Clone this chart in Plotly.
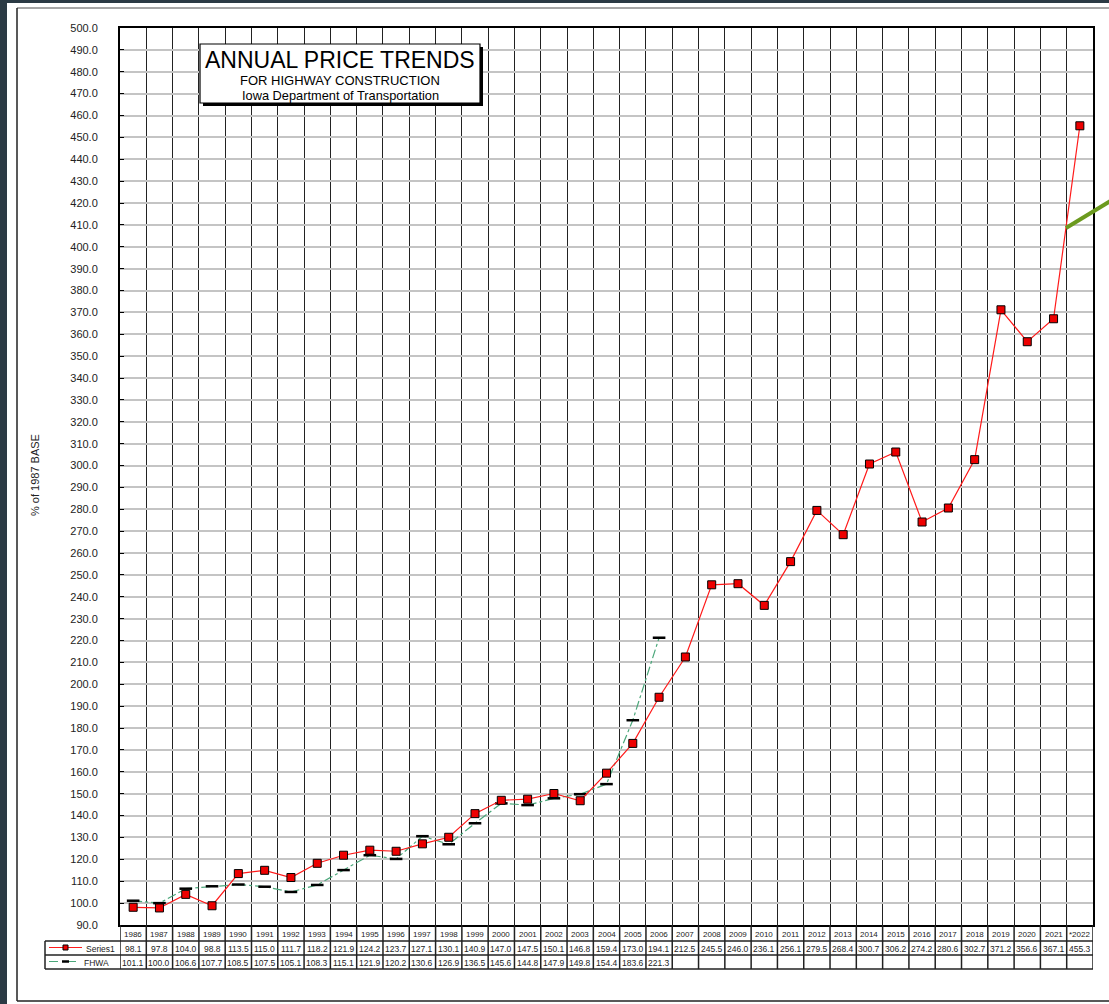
import plotly.graph_objects as go

years = ["1986", "1987", "1988", "1989", "1990", "1991", "1992", "1993", "1994", "1995",
         "1996", "1997", "1998", "1999", "2000", "2001", "2002", "2003", "2004", "2005",
         "2006", "2007", "2008", "2009", "2010", "2011", "2012", "2013", "2014", "2015",
         "2016", "2017", "2018", "2019", "2020", "2021", "*2022"]
series1 = [98.1, 97.8, 104.0, 98.8, 113.5, 115.0, 111.7, 118.2, 121.9, 124.2,
           123.7, 127.1, 130.1, 140.9, 147.0, 147.5, 150.1, 146.8, 159.4, 173.0,
           194.1, 212.5, 245.5, 246.0, 236.1, 256.1, 279.5, 268.4, 300.7, 306.2,
           274.2, 280.6, 302.7, 371.2, 356.6, 367.1, 455.3]
fhwa = [101.1, 100.0, 106.6, 107.7, 108.5, 107.5, 105.1, 108.3, 115.1, 121.9,
        120.2, 130.6, 126.9, 136.5, 145.6, 144.8, 147.9, 149.8, 154.4, 183.6,
        221.3]
fhwa_full = fhwa + [None] * (len(years) - len(fhwa))

W, H = 1109, 1004
L, R, T, B = 120, 1093, 28, 925
PW, PH = R - L, B - T


def px(x):
    return (x - L) / PW


def py(y):
    return (B - y) / PH


xs = list(range(len(years)))
n = len(years)
TXT = "#222222"

fig = go.Figure()
fig.add_trace(go.Scatter(
    x=xs, y=fhwa_full, mode="lines+markers", name="FHWA",
    line=dict(color="#4aa77a", width=1.2, dash="dashdot"),
    marker=dict(symbol="line-ew", size=9, line=dict(color="black", width=2.5)),
    connectgaps=False, showlegend=False))
fig.add_trace(go.Scatter(
    x=xs, y=series1, mode="lines+markers", name="Series1",
    line=dict(color="#ff1a1a", width=1.2),
    marker=dict(symbol="square", size=8, color="#ee0000", line=dict(color="black", width=1)),
    showlegend=False))

shapes = []
annotations = []


def note(x, y, text, size, xref="paper", yref="paper", xanchor="center", **kw):
    annotations.append(dict(x=x, y=y, xref=xref, yref=yref, text=text, showarrow=False,
                            xanchor=xanchor, yanchor="middle",
                            font=dict(size=size, family="Arial", color=kw.pop("color", TXT)), **kw))


# page background elements
shapes.append(dict(type="rect", xref="paper", yref="paper", x0=px(-5), x1=px(7), y0=py(1010), y1=py(-5),
                   fillcolor="#2b3a44", line=dict(width=0), layer="below"))
shapes.append(dict(type="rect", xref="paper", yref="paper", x0=px(-5), x1=px(1115), y0=py(3), y1=py(-5),
                   fillcolor="#2b3a44", line=dict(width=0), layer="below"))
shapes.append(dict(type="line", xref="paper", yref="paper", x0=px(17), x1=px(1115), y0=py(8), y1=py(8),
                   line=dict(color="#888888", width=1.5)))
shapes.append(dict(type="line", xref="paper", yref="paper", x0=px(17), x1=px(17), y0=py(8), y1=py(1001),
                   line=dict(color="#222222", width=1.5)))
shapes.append(dict(type="line", xref="paper", yref="paper", x0=px(17), x1=px(1115), y0=py(1001), y1=py(1001),
                   line=dict(color="#222222", width=1.5)))

# data table
for yy in [941, 955, 969]:
    shapes.append(dict(type="line", xref="paper", yref="paper", x0=px(45), x1=1.0, y0=py(yy), y1=py(yy),
                       line=dict(color="#222222", width=1.5)))
shapes.append(dict(type="line", xref="paper", yref="paper", x0=px(45), x1=px(45), y0=py(941), y1=py(969),
                   line=dict(color="#222222", width=1.5)))
for i in range(n + 1):
    shapes.append(dict(type="line", xref="x", yref="paper", x0=i - 0.5, x1=i - 0.5, y0=py(969), y1=0,
                       line=dict(color="#222222", width=1.5)))

for i in range(n):
    note(i, py(934), years[i], 8, xref="x")
    note(i, py(948.5), f"{series1[i]:.1f}", 8.5, xref="x")
    if fhwa_full[i] is not None:
        note(i, py(962.5), f"{fhwa_full[i]:.1f}", 8.5, xref="x")

# legend glyphs in the table
shapes.append(dict(type="line", xref="paper", yref="paper", x0=px(49), x1=px(82), y0=py(947.5), y1=py(947.5),
                   line=dict(color="#ff1a1a", width=1.2)))
shapes.append(dict(type="rect", xref="paper", yref="paper", x0=px(63), x1=px(68), y0=py(950), y1=py(945),
                   fillcolor="#ee0000", line=dict(color="black", width=1)))
shapes.append(dict(type="line", xref="paper", yref="paper", x0=px(49), x1=px(82), y0=py(961.5), y1=py(961.5),
                   line=dict(color="#4aa77a", width=1.2, dash="dash")))
shapes.append(dict(type="line", xref="paper", yref="paper", x0=px(62), x1=px(69), y0=py(961.5), y1=py(961.5),
                   line=dict(color="black", width=2.5)))
note(px(117), py(948.5), "Series1", 8.5, xanchor="right")
note(px(111), py(962.5), "FHWA", 8.5, xanchor="right")

# title box with shadow
shapes.append(dict(type="rect", xref="paper", yref="paper", x0=px(203), x1=px(483), y0=py(106), y1=py(47),
                   fillcolor="black", line=dict(width=0)))
shapes.append(dict(type="rect", xref="paper", yref="paper", x0=px(200), x1=px(480), y0=py(103), y1=py(44),
                   fillcolor="white", line=dict(color="black", width=1.2)))
note(px(340), py(60), "ANNUAL PRICE TRENDS", 23, color="black")
note(px(340), py(80), "FOR HIGHWAY CONSTRUCTION", 13, color="black")
note(px(340), py(95.5), "Iowa Department of Transportation", 12.8, color="black")

# y-axis title
note(px(35), py(475), "% of 1987 BASE", 11, textangle=-90)

# green pointer line
shapes.append(dict(type="line", xref="paper", yref="paper", x0=px(1066), x1=px(1112), y0=py(228), y1=py(200),
                   line=dict(color="#6b9a1e", width=4)))

fig.update_layout(
    width=W, height=H,
    margin=dict(l=L, r=W - R, t=T, b=H - B),
    paper_bgcolor="white", plot_bgcolor="white",
    shapes=shapes, annotations=annotations,
    xaxis=dict(range=[-0.5, n - 0.5], tickmode="array", tickvals=[i - 0.5 for i in range(1, n)],
               showticklabels=False, ticks="", showgrid=True, gridcolor="#222222", gridwidth=1,
               showline=True, mirror=True, linecolor="black", linewidth=2, zeroline=False, fixedrange=True),
    yaxis=dict(range=[90, 500], dtick=10, tick0=90, tickformat=".1f", showgrid=True, gridcolor="#c4c4c4",
               gridwidth=2, ticks="inside", ticklen=4, tickcolor="black", ticklabelstandoff=18,
               tickfont=dict(size=11, family="Arial", color=TXT),
               showline=True, mirror=True, linecolor="black", linewidth=2, zeroline=False, fixedrange=True),
    font=dict(family="Arial"),
)

fig.write_html("out.html", config={"displayModeBar": False},
               post_script="document.body.style.margin='0';document.body.style.overflow='hidden';")
